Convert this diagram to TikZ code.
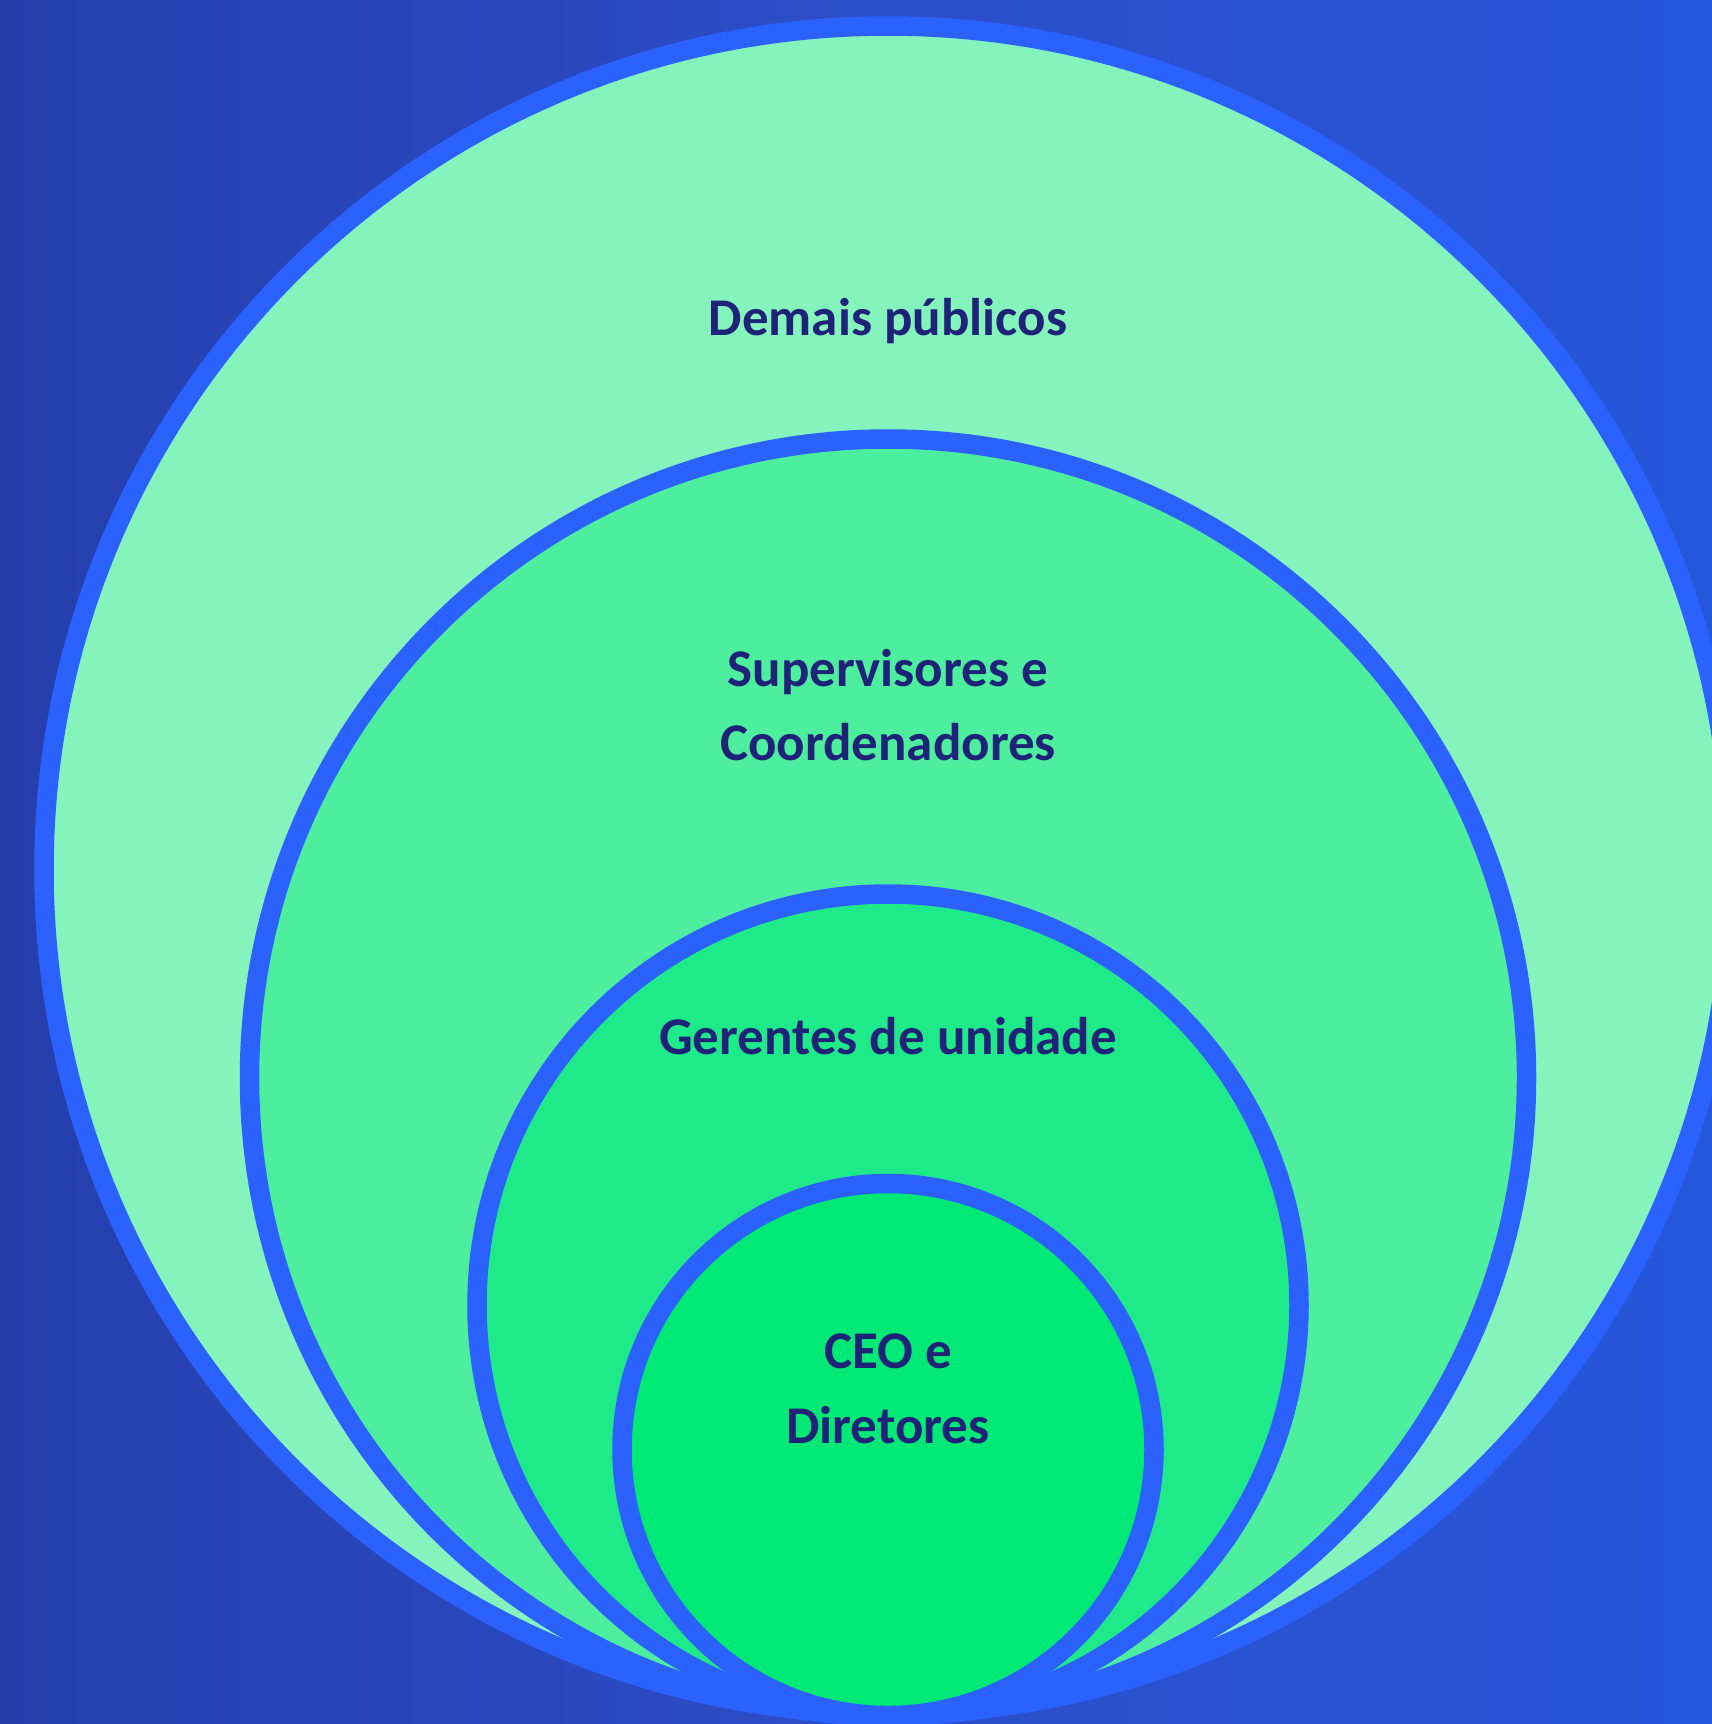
\documentclass[tikz,border=0pt]{standalone}
\usepackage{fontspec}
\setmainfont{Carlito}
\definecolor{bgL}{RGB}{38,62,172}
\definecolor{bgM}{RGB}{44,78,200}
\definecolor{bgR}{RGB}{38,86,218}
\definecolor{ring}{RGB}{43,98,255}
\definecolor{fillA}{RGB}{132,244,188}
\definecolor{fillB}{RGB}{77,239,159}
\definecolor{fillC}{RGB}{31,234,137}
\definecolor{fillD}{RGB}{0,232,118}
\definecolor{txt}{RGB}{31,35,120}
\tikzset{
  ringline/.style={draw=ring, line width=19.5pt},
  label/.style={text=txt, font=\bfseries\fontsize{53}{73}\selectfont, align=center, anchor=base, inner sep=0pt}
}
\begin{document}
\begin{tikzpicture}[x=1pt,y=-1pt]
\useasboundingbox (0,0) rectangle (1712,1724);
\shade[left color=bgL, right color=bgR, middle color=bgM] (0,0) rectangle (1712,1724);
\begin{scope}
\clip (0,0) rectangle (1712,1724);
\path[ringline, fill=fillA] (888,870) circle[radius=844];
\path[ringline, fill=fillB] (888,1077.5) circle[radius=638.5];
\path[ringline, fill=fillC] (888,1305) circle[radius=411];
\path[ringline, fill=fillD] (888,1449.5) circle[radius=266];
\end{scope}
\node[label] (demais) at (888,335) {Demais públicos};
\node[label] (sup) at (888,686) {Supervisores e};
\node[label] (coord) at (888,760) {Coordenadores};
\node[label] (ger) at (888,1054) {Gerentes de unidade};
\node[label] (ceo) at (888,1368) {CEO e};
\node[label] (dir) at (888,1443) {Diretores};
\end{tikzpicture}
\end{document}
